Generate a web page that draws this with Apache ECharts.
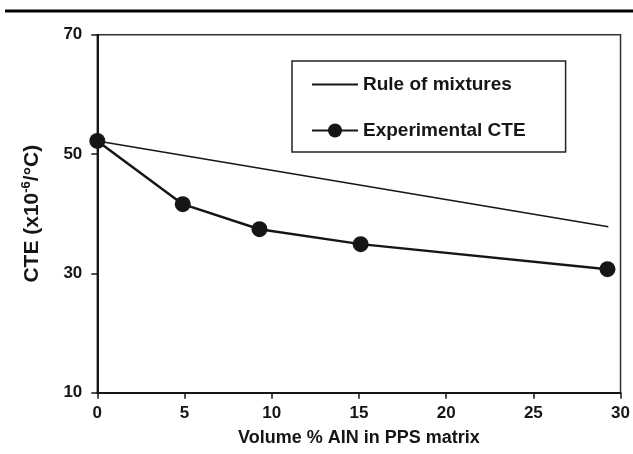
<!DOCTYPE html>
<html>
<head>
<meta charset="utf-8">
<script src="https://cdn.jsdelivr.net/npm/echarts@6/dist/echarts.min.js"></script>
<style>
  html, body { margin: 0; padding: 0; background: #fff; }
  #chart { width: 633px; height: 454px; }
</style>
</head>
<body>
<div id="chart"></div>
<script>
// Volume fraction of AlN filler (%) and measured CTE (x10^-6 /°C)
const volumePct = [0, 4.9, 9.3, 15.1, 29.25];
const experimentalCTE = [52.2, 41.6, 37.4, 34.9, 30.7];
// Rule-of-mixtures prediction: straight line between the end compositions
const mixturePct = [0, 29.3];
const mixtureCTE = [52.2, 37.8];

const xTicks = { min: 0, max: 30, interval: 5 };
const yTicks = { min: 10, max: 70, interval: 20 };

const ink = '#161616';
const font = '"Liberation Sans", Arial, sans-serif';

const pairs = (xs, ys) => xs.map((x, i) => [x, ys[i]]);

const chart = echarts.init(document.getElementById('chart'), null, { renderer: 'canvas' });
chart.setOption({
  animation: false,
  backgroundColor: '#fff',
  textStyle: { fontFamily: font },
  graphic: [{
    type: 'rect',
    left: 5, top: 9.5,
    shape: { width: 628, height: 3 },
    style: { fill: '#000' }
  }],
  grid: {
    left: 97.3, right: 9, top: 34.7, bottom: 61.3,
    show: true, borderColor: '#333', borderWidth: 1.5
  },
  legend: {
    orient: 'vertical',
    left: 292, top: 61,
    padding: [14, 40, 12, 19],
    itemWidth: 46, itemHeight: 17.5, itemGap: 27,
    borderColor: '#222', borderWidth: 1.5,
    textStyle: { fontSize: 19, fontWeight: 'bold', color: ink, fontFamily: font },
    data: [
      { name: 'Rule of mixtures', itemStyle: { opacity: 0 } },
      { name: 'Experimental CTE' }
    ]
  },
  xAxis: {
    type: 'value',
    min: xTicks.min, max: xTicks.max, interval: xTicks.interval,
    name: 'Volume % AIN in PPS matrix',
    nameLocation: 'middle', nameGap: 36,
    nameTextStyle: { fontSize: 18, fontWeight: 'bold', color: ink, fontFamily: font },
    axisLine: { lineStyle: { color: ink, width: 2 } },
    axisTick: { show: true, length: 6, lineStyle: { color: ink, width: 1.5 } },
    axisLabel: { fontSize: 17, fontWeight: 'bold', color: ink, margin: 12, fontFamily: font },
    splitLine: { show: false }
  },
  yAxis: {
    type: 'value',
    min: yTicks.min, max: yTicks.max, interval: yTicks.interval,
    name: '{a|CTE (x10}{s|-6}{a|/°C)}',
    nameLocation: 'middle', nameRotate: 90, nameGap: 53,
    nameTextStyle: {
      color: ink,
      rich: {
        a: { fontSize: 21, fontWeight: 'bold', color: ink, fontFamily: font, lineHeight: 24 },
        s: { fontSize: 13, fontWeight: 'bold', color: ink, fontFamily: font, lineHeight: 13, verticalAlign: 'top' }
      }
    },
    axisLine: { show: true, lineStyle: { color: ink, width: 2 } },
    axisTick: { show: true, length: 6, lineStyle: { color: ink, width: 1.5 } },
    axisLabel: { fontSize: 17, fontWeight: 'bold', color: ink, margin: 15, fontFamily: font },
    splitLine: { show: false }
  },
  series: [
    {
      name: 'Rule of mixtures',
      type: 'line',
      data: pairs(mixturePct, mixtureCTE),
      symbol: 'none',
      lineStyle: { color: ink, width: 1.5 },
      itemStyle: { color: ink },
      z: 2
    },
    {
      name: 'Experimental CTE',
      type: 'line',
      data: pairs(volumePct, experimentalCTE),
      symbol: 'circle', symbolSize: 16,
      lineStyle: { color: ink, width: 2.5 },
      itemStyle: { color: ink, borderWidth: 0 },
      z: 3
    }
  ]
});
</script>
</body>
</html>
